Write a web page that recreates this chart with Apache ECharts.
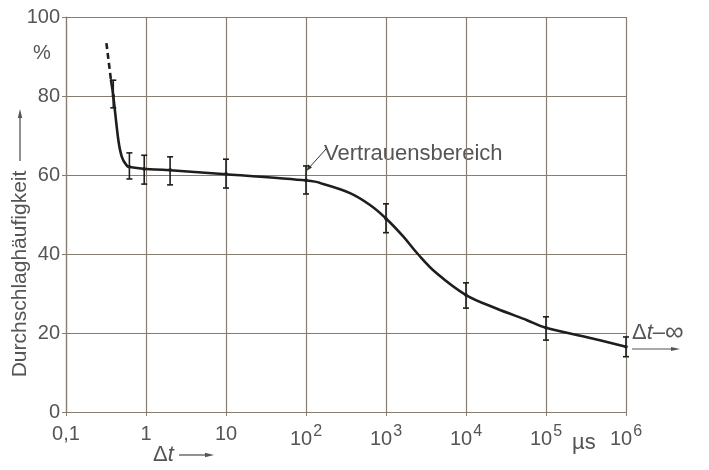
<!DOCTYPE html>
<html>
<head>
<meta charset="utf-8">
<script src="https://cdn.jsdelivr.net/npm/echarts@6/dist/echarts.min.js"></script>
<style>
html,body{margin:0;padding:0;background:#fff;}
#c{width:709px;height:470px;}
</style>
</head>
<body>
<div id="c"></div>
<script>
// ---- data ----
const xTickValues = [0.1, 1, 10, 100, 1e3, 1e4, 1e5, 1e6];
const xTickBase = ['0,1', '1', '10', '10', '10', '10', '10', '10'];
const xTickExp = ['', '', '', '2', '3', '4', '5', '6'];
const yTickLabels = ['0', '20', '40', '60', '80', '100'];

// measured points with confidence interval
const pointX = [0.39, 0.62, 0.95, 2, 10, 100, 1000, 1e4, 1e5, 1e6];
const pointY = [80, 62.1, 61.5, 61.3, 60.3, 58.7, 48.9, 29.6, 21.3, 16.5];
const errLow = [77, 59, 57.7, 57.5, 56.7, 55.2, 45.4, 26.3, 18.2, 14];
const errHigh = [84, 65.6, 65, 64.6, 64, 62.3, 52.7, 32.7, 24.1, 19];

// fitted curve (solid part)
const curveX = [0.365, 0.39, 0.45, 0.5, 0.57, 0.63, 1, 2, 10, 100, 164, 355, 631, 1000, 1650, 2500, 4300, 1e4, 24000, 57000, 1e5, 316000, 1e6];
const curveY = [84, 80, 69, 64.5, 62.5, 62, 61.5, 61.2, 60.2, 58.6, 57.7, 55.4, 52.4, 49, 44.4, 40, 35.1, 29.6, 26.2, 23.3, 21.3, 19, 16.5];
// extrapolated (dashed) part
const dashX = [0.32, 0.365];
const dashY = [93.4, 84];

const gridColor = '#857d6f';
const textColor = '#555';
const FONT = 'Liberation Sans';

const chart = echarts.init(document.getElementById('c'), null, {renderer: 'canvas'});

const labelMap = {};
xTickValues.forEach((v, i) => { labelMap[Math.round(Math.log10(v))] = i; });

// Catmull-Rom spline through pixel points, as SVG path data
function splinePath(pts) {
  let d = 'M' + pts[0][0] + ' ' + pts[0][1];
  for (let i = 0; i < pts.length - 1; i++) {
    const p0 = pts[i - 1] || pts[i];
    const p1 = pts[i];
    const p2 = pts[i + 1];
    const p3 = pts[i + 2] || p2;
    const c1 = [p1[0] + (p2[0] - p0[0]) / 6, p1[1] + (p2[1] - p0[1]) / 6];
    const c2 = [p2[0] - (p3[0] - p1[0]) / 6, p2[1] - (p3[1] - p1[1]) / 6];
    d += ' C' + c1[0] + ' ' + c1[1] + ' ' + c2[0] + ' ' + c2[1] + ' ' + p2[0] + ' ' + p2[1];
  }
  return d;
}

const option = {
  backgroundColor: '#fff',
  animation: false,
  grid: {left: 66, right: 83, top: 17, bottom: 58, show: false},
  xAxis: {
    type: 'log', logBase: 10, min: 0.1, max: 1e6,
    axisLine: {show: true, onZero: false, lineStyle: {color: gridColor, width: 1.2}},
    axisTick: {show: true, length: 4, lineStyle: {color: gridColor}},
    minorTick: {show: false},
    splitLine: {show: true, lineStyle: {color: gridColor, width: 1.2}},
    axisLabel: {
      margin: 12,
      color: textColor,
      fontFamily: FONT,
      fontSize: 20,
      formatter: function (v) {
        const i = labelMap[Math.round(Math.log10(v))];
        if (i === undefined) return '';
        return xTickExp[i] ? '{b|' + xTickBase[i] + '}{s|' + xTickExp[i] + '}' : '{b|' + xTickBase[i] + '}';
      },
      rich: {
        b: {fontSize: 20, fontFamily: FONT, color: textColor},
        s: {fontSize: 16, fontFamily: FONT, color: textColor, verticalAlign: 'bottom', padding: [0, 0, 14, 1]}
      }
    }
  },
  yAxis: {
    type: 'value', min: 0, max: 100, interval: 20,
    axisLine: {show: true, lineStyle: {color: gridColor, width: 1.2}},
    axisTick: {show: true, length: 4, lineStyle: {color: gridColor}},
    splitLine: {show: true, lineStyle: {color: gridColor, width: 1.2}},
    axisLabel: {
      margin: 6, color: textColor, fontFamily: FONT, fontSize: 20,
      formatter: function (v) { return yTickLabels[Math.round(v / 20)]; }
    }
  },
  series: [
    {
      type: 'custom', name: 'curve',
      data: curveX.map((x, i) => [x, curveY[i]]),
      renderItem: function (params, api) {
        if (params.dataIndex !== 0) return null;
        const pts = curveX.map((x, i) => api.coord([x, curveY[i]]));
        return {type: 'path', shape: {pathData: splinePath(pts)},
          style: {stroke: '#1e1e1e', lineWidth: 2.6, fill: null, lineJoin: 'round', lineCap: 'round'}};
      },
      z: 3
    },
    {
      type: 'line', name: 'dash',
      data: dashX.map((x, i) => [x, dashY[i]]),
      showSymbol: false,
      lineStyle: {color: '#1e1e1e', width: 2.6, type: [6, 4]}, z: 3
    },
    {
      type: 'custom', name: 'err',
      data: pointX.map((x, i) => [x, pointY[i], errLow[i], errHigh[i]]),
      renderItem: function (params, api) {
        const x = api.value(0);
        const lo = api.coord([x, api.value(2)]);
        const hi = api.coord([x, api.value(3)]);
        const mid = api.coord([x, api.value(1)]);
        const w = 3;
        const st = {stroke: '#1e1e1e', lineWidth: 1.6};
        return {
          type: 'group',
          children: [
            {type: 'line', shape: {x1: lo[0], y1: lo[1], x2: hi[0], y2: hi[1]}, style: st},
            {type: 'line', shape: {x1: lo[0] - w, y1: lo[1], x2: lo[0] + w, y2: lo[1]}, style: st},
            {type: 'line', shape: {x1: hi[0] - w, y1: hi[1], x2: hi[0] + w, y2: hi[1]}, style: st},
            {type: 'circle', shape: {cx: mid[0], cy: mid[1], r: 1.8}, style: {fill: '#1e1e1e'}}
          ]
        };
      },
      z: 4
    }
  ],
  graphic: [
    // y axis name
    {type: 'text', x: 20, y: 274, rotation: Math.PI / 2, style: {text: 'Durchschlaghäufigkeit', font: '21px "' + FONT + '"', fill: textColor, align: 'center', verticalAlign: 'middle'}},
    {type: 'line', shape: {x1: 20, y1: 161, x2: 20, y2: 116}, style: {stroke: textColor, lineWidth: 1.3}},
    {type: 'polygon', shape: {points: [[20, 109], [17.8, 118], [22.2, 118]]}, style: {fill: textColor}},
    {type: 'text', x: 42, y: 53, style: {text: '%', font: '20px "' + FONT + '"', fill: textColor, align: 'center', verticalAlign: 'middle'}},
    // Δt below x axis
    {type: 'text', x: 153, y: 455, style: {text: '{d|Δ}{t|t}', align: 'left', verticalAlign: 'middle',
      rich: {d: {font: '22px "' + FONT + '"', fill: textColor}, t: {font: 'italic 22px "' + FONT + '"', fill: textColor}}}},
    {type: 'line', shape: {x1: 179, y1: 455, x2: 206, y2: 455}, style: {stroke: textColor, lineWidth: 1.3}},
    {type: 'polygon', shape: {points: [[214, 455], [205, 452.8], [205, 457.2]]}, style: {fill: textColor}},
    // µs unit
    {type: 'text', x: 572, y: 443, style: {text: 'µs', font: '22px "' + FONT + '"', fill: textColor, align: 'left', verticalAlign: 'middle'}},
    // Δt → ∞
    {type: 'text', x: 632, y: 333, style: {text: '{d|Δ}{t|t}{a|–}{i|∞}', align: 'left', verticalAlign: 'middle',
      rich: {d: {font: '22px "' + FONT + '"', fill: textColor}, t: {font: 'italic 22px "' + FONT + '"', fill: textColor},
        a: {font: '22px "' + FONT + '"', fill: textColor}, i: {font: '26px "' + FONT + '"', fill: textColor}}}},
    {type: 'line', shape: {x1: 632, y1: 349, x2: 672, y2: 349}, style: {stroke: textColor, lineWidth: 1.2}},
    {type: 'polygon', shape: {points: [[680, 349], [671, 347], [671, 351]]}, style: {fill: textColor}},
    // Vertrauensbereich annotation
    {type: 'line', shape: {x1: 308, y1: 169, x2: 326, y2: 149}, style: {stroke: '#333', lineWidth: 1}},
    {type: 'polygon', shape: {points: [[306.5, 171], [308.5, 164.5], [312, 167.5]]}, style: {fill: '#333'}},
    {type: 'text', x: 324, y: 154, style: {text: 'Vertrauensbereich', font: '22px "' + FONT + '"', fill: textColor, align: 'left', verticalAlign: 'middle'}}
  ]
};
chart.setOption(option);
</script>
</body>
</html>
